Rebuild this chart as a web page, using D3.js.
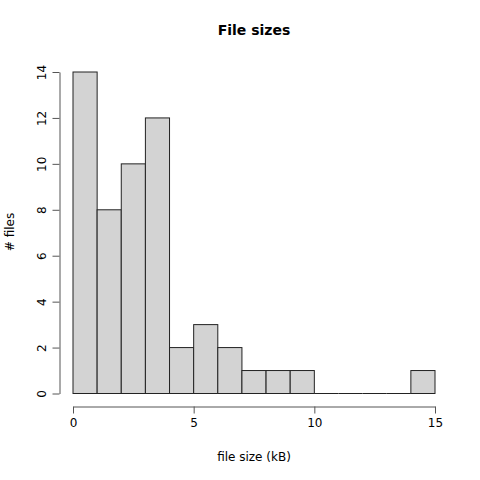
<!DOCTYPE html>
<html><head><meta charset="utf-8">
<script src="https://cdn.jsdelivr.net/npm/d3@7"></script>
<style>body{margin:0;background:#fff}text{font-family:"DejaVu Sans",sans-serif}</style>
</head><body>
<svg id="c" width="480" height="480"></svg>
<script>
const binStarts = [0,1,2,3,4,5,6,7,8,9,10,11,12,13,14];
const counts = [14,8,10,12,2,3,2,1,1,1,0,0,0,0,1];
const xTicks = [0,5,10,15];
const yTicks = [0,2,4,6,8,10,12,14];
const title = "File sizes", xLabel = "file size (kB)", yLabel = "# files";

const svg = d3.select("#c");
const x = d3.scaleLinear().domain([0,15]).range([73,435]);
const y = d3.scaleLinear().domain([0,14]).range([393.5,72]);

svg.append("g").selectAll("rect").data(binStarts.filter((d,i)=>counts[i]>0)).join("rect")
  .attr("x", d=>x(d)).attr("width", d=>x(d+1)-x(d))
  .attr("y", d=>y(counts[binStarts.indexOf(d)])).attr("height",d=>y(0)-y(counts[binStarts.indexOf(d)]))
  .attr("fill","#d3d3d3").attr("stroke","#222").attr("stroke-width",1);
svg.append("g").selectAll("line").data(binStarts.filter((d,i)=>counts[i]===0)).join("line")
  .attr("x1", d=>x(d)).attr("x2", d=>x(d+1)).attr("y1", y(0)).attr("y2", y(0))
  .attr("stroke","#222").attr("stroke-width",1);

const xa = svg.append("g").attr("transform","translate(0,406.5)")
  .call(d3.axisBottom(x).tickValues(xTicks).tickSize(7).tickSizeOuter(0).tickPadding(5).tickFormat(d3.format("d")));
const ya = svg.append("g").attr("transform","translate(59.5,0)")
  .call(d3.axisLeft(y).tickValues(yTicks).tickSize(7).tickSizeOuter(0).tickPadding(5).tickFormat(d3.format("d")));
[xa,ya].forEach(a=>{a.select(".domain").attr("stroke","#555");a.selectAll("line").attr("stroke","#555");
  a.selectAll("text").attr("font-size",12).attr("fill","#000").attr("font-family","DejaVu Sans");});
ya.selectAll(".tick text").attr("x",null).attr("y",0).attr("dy",null).attr("text-anchor","middle")
  .attr("transform","translate(-13.5,0) rotate(-90)");

svg.append("text").attr("x",254).attr("y",35).attr("text-anchor","middle").attr("font-weight","bold").attr("font-size",14).text(title);
svg.append("text").attr("x",254).attr("y",461).attr("text-anchor","middle").attr("font-size",12).text(xLabel);
svg.append("text").attr("transform","translate(14,232) rotate(-90)").attr("text-anchor","middle").attr("font-size",12).text(yLabel);
</script>
</body></html>
